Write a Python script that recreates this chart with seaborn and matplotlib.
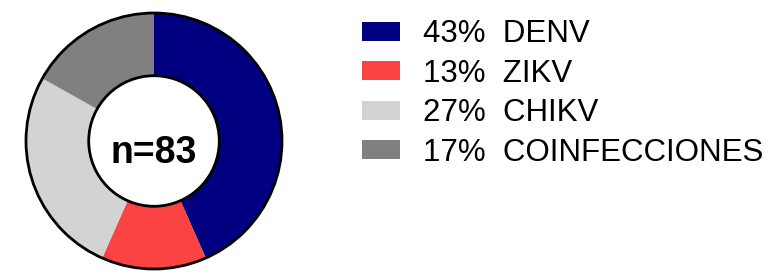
import matplotlib
matplotlib.use('Agg')
import matplotlib.pyplot as plt
import matplotlib.patches as mpatches
import seaborn as sns

# data
categories = ['DENV', 'ZIKV', 'CHIKV', 'COINFECCIONES']
counts = [36, 11, 22, 14]
colors = ['#000080', '#FC4343', '#D3D3D3', '#808080']

total = sum(counts)
pcts = [round(c / total * 100) for c in counts]
labels = [f'{p}%  {name}' for p, name in zip(pcts, categories)]

sns.set_theme(style='white', rc={'text.color': 'black'})
plt.rcParams['font.family'] = ['Liberation Sans', 'DejaVu Sans']
palette = sns.color_palette(colors)

fig = plt.figure(figsize=(7.82, 2.74), dpi=100)
ax = fig.add_axes([19.6 / 782, -1.4 / 274, 268.8 / 782, 268.8 / 274])

hole = 0.51
wedges, _ = ax.pie(counts, colors=palette, startangle=90, counterclock=False,
                   radius=1, wedgeprops=dict(width=1 - hole, linewidth=0))

# black outlines on the ring
ax.add_patch(mpatches.Circle((0, 0), 1, fill=False, ec='black', lw=2))
ax.add_patch(mpatches.Circle((0, 0), hole, fill=False, ec='black', lw=2))

ax.text(0, -0.09, f'n={total}', ha='center', va='center',
        fontsize=27, fontweight='bold', color='black')

ax.set_xlim(-1.05, 1.05)
ax.set_ylim(-1.05, 1.05)
ax.set_aspect('equal')
ax.axis('off')

fig.legend(wedges, labels, loc='upper left', bbox_to_anchor=(349 / 782, 1 - 7 / 274),
           frameon=False, fontsize=22.5, handlelength=1.22, handleheight=0.55,
           handletextpad=0.75, labelspacing=0.3, borderaxespad=0,
           labelcolor='black')

fig.savefig('out.png', dpi=100)
